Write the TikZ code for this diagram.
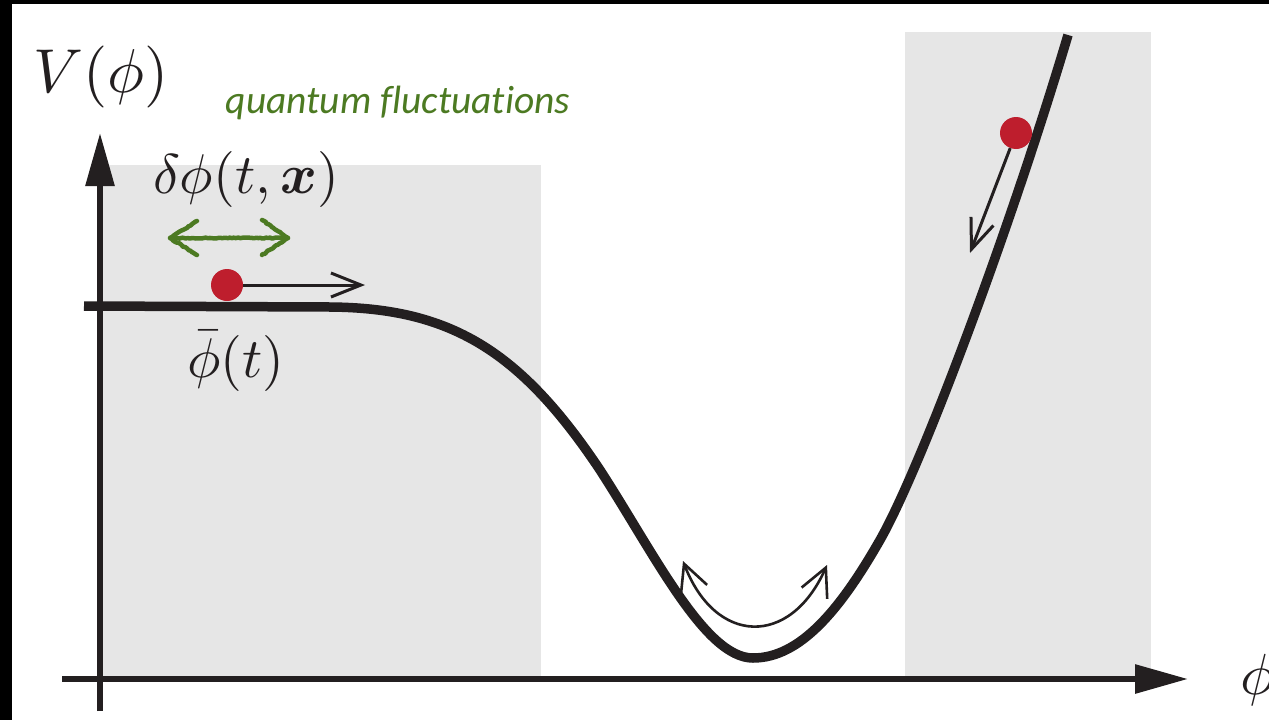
\documentclass[tikz,border=0pt]{standalone}
\usepackage{fontspec}
\usepackage{bm}
\usepackage{graphicx}
\usetikzlibrary{arrows.meta,decorations.pathmorphing}
\newfontfamily\qfont{Carlito}[Ligatures=NoCommon]
\definecolor{ink}{RGB}{35,31,32}
\definecolor{boxgray}{RGB}{230,230,230}
\definecolor{ballred}{RGB}{190,30,45}
\definecolor{qgreen}{RGB}{76,122,34}
\tikzset{
  axis/.style={ink, line width=6pt, -{Triangle[length=53pt,width=28pt]}},
  potential/.style={ink, line width=9.5pt},
  ball/.style={circle, fill=ballred, minimum size=32pt, inner sep=0pt},
  motion/.style={ink, line width=3pt, -{Straight Barb[length=30pt,width=24pt]}},
  osc/.style={ink, line width=2.6pt, {Straight Barb[length=28pt,width=28pt]}-{Straight Barb[length=28pt,width=28pt]}},
  qarrow/.style={qgreen, line width=4.5pt, line cap=round, line join=round, decorate,
    decoration={random steps, segment length=2pt, amplitude=0.6pt}},
  lab/.style={inner sep=0pt, anchor=base, text=ink},
}
\begin{document}
\begin{tikzpicture}[x=1pt,y=-1pt]
\useasboundingbox (0,0) rectangle (1269,720);
\fill[white] (0,0) rectangle (1269,720);
\fill[black] (0,0) rectangle (1269,4);
\fill[black] (0,0) rectangle (12,720);
% shaded regions
\fill[boxgray] (103,165) rectangle (541,679);
\fill[boxgray] (905,32) rectangle (1151,679);
% axes
\coordinate (xa0) at (62,679);
\coordinate (xa1) at (1188,679);
\coordinate (ya0) at (100,711);
\coordinate (ya1) at (100,133);
\draw[axis] (xa0) -- (xa1);
\draw[axis] (ya0) -- (ya1);
% potential
\draw[potential] (84,306) -- (330,307)
  .. controls (450,308) and (520,350) .. (600,470)
  .. controls (655,555) and (705,658) .. (753,658)
  .. controls (800,658) and (840,610) .. (880,540)
  .. controls (920,470) and (1010,230) .. (1068,35);
% balls
\node[ball] (b1) at (227,285) {};
\coordinate (b1t) at (365,285);
\draw[motion] (b1) -- (b1t);
\node[ball] (b2) at (1016,133) {};
\coordinate (b2t) at (970,253);
\draw[motion] (b2) -- (b2t);
% oscillation arrow
\coordinate (ol) at (683,561);
\coordinate (or) at (827,565);
\draw[osc] (ol) .. controls (715,645) and (790,648) .. (or);
% quantum fluctuation arrow
\coordinate (gl) at (170,238);
\coordinate (gr) at (288,238);
\coordinate (glu) at (197,221);
\coordinate (gld) at (197,255);
\coordinate (gru) at (262,220);
\coordinate (grd) at (262,255);
\draw[qarrow] (gl) -- (gr);
\draw[qarrow] (glu) -- (gl) -- (gld);
\draw[qarrow] (gru) -- (gr) -- (grd);
% labels
\node[lab] (vlab) at (101,92) {\scalebox{6.2}{$V(\phi)$}};
\node[lab] (dlab) at (246,193) {\scalebox{5.6}{$\delta\phi(t,\bm{x})$}};
\node[lab] (blab) at (236,377) {\scalebox{5.6}{$\bar\phi(t)$}};
\node[lab] (plab) at (1258,694) {\scalebox{5.8}{$\phi$}};
\node[lab, text=qgreen] (qlab) at (398,113) {\qfont\itshape\fontsize{39.5}{47}\selectfont quantum fluctuations};
\end{tikzpicture}
\end{document}
